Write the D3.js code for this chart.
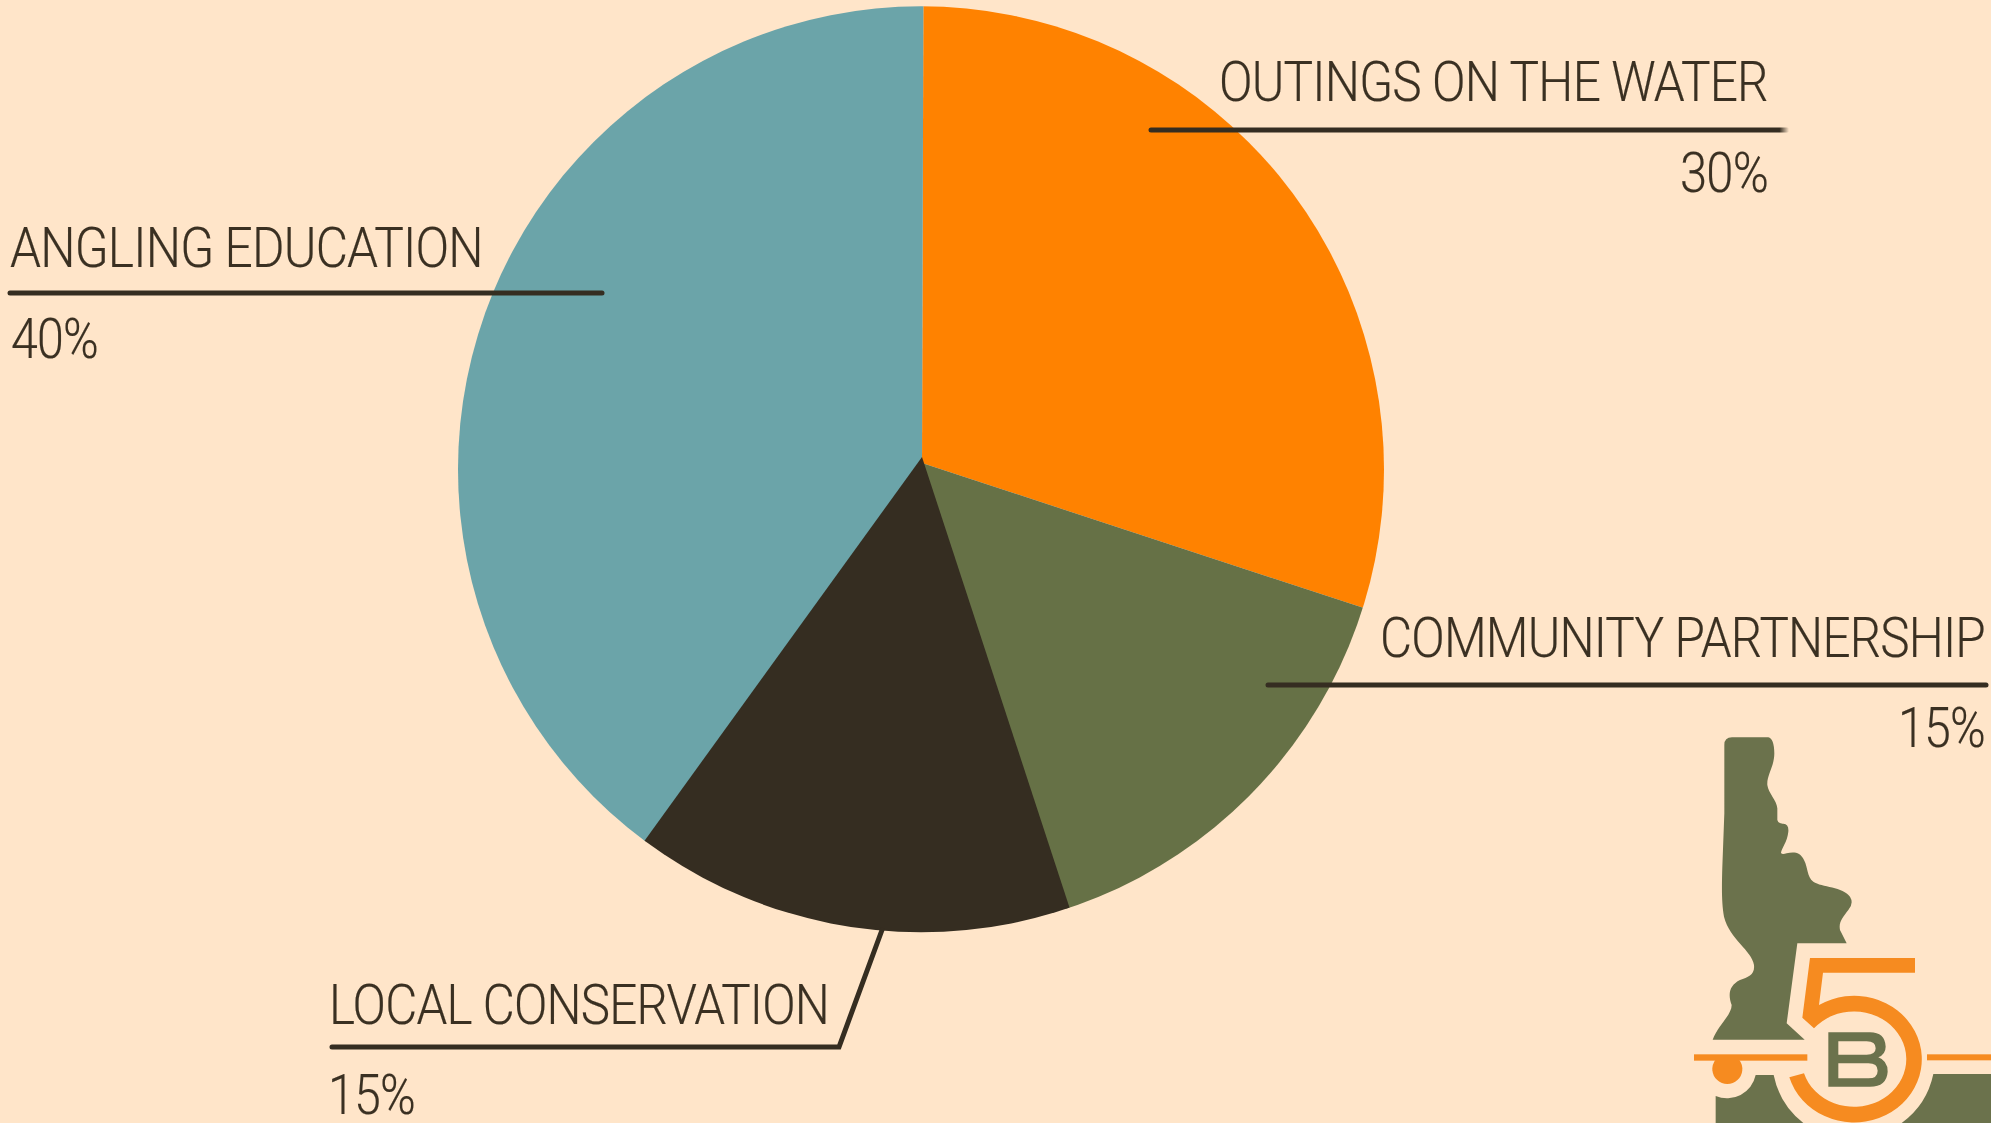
<!DOCTYPE html>
<html>
<head>
<meta charset="utf-8">
<title>Program allocation</title>
<script src="https://cdn.jsdelivr.net/npm/d3@7/dist/d3.min.js"></script>
<style>
  html, body { margin: 0; padding: 0; background: #FFE5C9; overflow: hidden; }
  svg { display: block; }
  text { font-family: Roboto, sans-serif; font-weight: 300; fill: #3A3022; stroke: #3A3022; stroke-width: 0.2px; letter-spacing: -0.9px; }
</style>
</head>
<body>
<svg id="chart" width="1991" height="1123"></svg>
<script>
// Program share by category, clockwise from twelve o'clock
const categories = ["OUTINGS ON THE WATER", "COMMUNITY PARTNERSHIP", "LOCAL CONSERVATION", "ANGLING EDUCATION"];
const shares = [30, 15, 15, 40];
const sliceColors = ["#FF8200", "#667146", "#352D21", "#6BA4A9"];

const width = 1991, height = 1123;
const ink = "#352D21";
const fontSize = 56;

// Callout geometry for each category: heading box, rule and percentage box
const callouts = [
  { x0: 1219, x1: 1768, base: 101,  pctBase: 192,  px0: 1680, px1: 1768, rule: [[1151, 130], [1787, 130]] },
  { x0: 1380, x1: 1985, base: 657,  pctBase: 747,  px0: 1898, px1: 1985, rule: [[1268, 685], [1986, 685]] },
  { x0: 329,  x1: 829,  base: 1024, pctBase: 1114, px0: 328,  px1: 415,  rule: [[332, 1047], [839, 1047], [882, 930]] },
  { x0: 10,   x1: 483,  base: 267,  pctBase: 358,  px0: 11,   px1: 98,   rule: [[10, 293], [602, 293]] }
];

const svg = d3.select("#chart");
svg.append("rect").attr("width", width).attr("height", height).attr("fill", "#FFE5C9");

const defs = svg.append("defs");
defs.append("clipPath").attr("id", "disc")
  .append("circle").attr("cx", 921).attr("cy", 469.3).attr("r", 463);

// The top rule dissolves at its right end
const fade = defs.append("linearGradient").attr("id", "ruleFade")
  .attr("gradientUnits", "userSpaceOnUse")
  .attr("x1", 1151).attr("x2", 1789).attr("y1", 0).attr("y2", 0);
fade.append("stop").attr("offset", 0.985).attr("stop-color", ink).attr("stop-opacity", 1);
fade.append("stop").attr("offset", 1).attr("stop-color", ink).attr("stop-opacity", 0);

// Wedges radiate from a hub a little above the disc's centre
const tilt = 0.003;
const pie = d3.pie().sort(null).value(d => d).startAngle(tilt).endAngle(2 * Math.PI + tilt);
const arc = d3.arc().innerRadius(0).outerRadius(500);
const hub = [922, 463];
const wedges = pie(shares).map((d, i) => ({ ...d, i }));

const disc = svg.append("g").attr("clip-path", "url(#disc)");
disc.selectAll("path")
  .data(wedges.slice().sort((a, b) => (a.i === 2) - (b.i === 2)))
  .join("path")
  .attr("transform", d => d.i === 2
    ? `translate(${hub[0]},${hub[1] - 6}) rotate(-0.3)`
    : `translate(${hub[0]},${hub[1]})`)
  .attr("d", arc)
  .attr("fill", d => sliceColors[d.i]);

// Places a text so its measured run fills the box from x0 to x1
function fitText(label, x0, x1, y) {
  const t = svg.append("text").attr("font-size", fontSize).text(label);
  const natural = t.node().getComputedTextLength();
  t.attr("transform", `translate(${x0},${y}) scale(${(x1 - x0) / natural},1)`);
}

// Callouts
const line = d3.line();
callouts.forEach((c, i) => {
  svg.append("path")
    .attr("d", line(c.rule))
    .attr("fill", "none")
    .attr("stroke", i === 0 ? "url(#ruleFade)" : ink)
    .attr("stroke-width", 5)
    .attr("stroke-linecap", "round")
    .attr("stroke-linejoin", "miter");

  fitText(categories[i], c.x0, c.x1, c.base);
  fitText(`${shares[i]}%`, c.px0, c.px1, c.pctBase);
});

// Organisation mark in the lower right corner
const mark = svg.append("g").attr("transform", "translate(1640,700) scale(0.33333)");
const markGreen = "#6B724C", markOrange = "#F68B20";

mark.append("path").attr("fill", markGreen).attr("d",
  "M253,135 Q253,112 276,112 L385,112 Q402,115 403,160 C403,200 380,225 382,255 " +
  "C385,280 410,300 412,325 L412,360 Q415,372 430,371 Q447,372 445,395 C442,425 425,445 423,458 " +
  "Q425,465 440,460 C460,455 480,455 492,480 C505,505 500,530 520,545 C545,562 610,560 630,590 " +
  "Q642,610 625,630 C610,650 595,665 600,690 L620,730 L472,730 L440,970 L494,1019 L218,1019 " +
  "C235,975 275,945 275,915 C262,880 270,855 300,840 C325,830 345,825 342,795 " +
  "C335,750 270,720 252,650 C245,610 245,570 247,500 L253,340 Z");

mark.append("path").attr("fill", markGreen).attr("d",
  "M227,1188 A88,88 0 0 0 347,1125 L401,1125 A243,243 0 0 0 490,1269 L227,1269 Z");
mark.append("path").attr("fill", markGreen).attr("d",
  "M880,1122 L1053,1122 L1053,1269 L785,1269 A243,243 0 0 0 880,1122 Z");

mark.append("path").attr("fill", markOrange).attr("d",
  "M510,774 L825,774 L825,818 L549,818 L537,915 A203,190 0 1 1 448,1132 L492,1120 " +
  "A157,143 0 1 0 522,985 L487,953 Z");
mark.append("rect").attr("fill", markOrange).attr("x", 162).attr("y", 1063).attr("width", 340).attr("height", 19);
mark.append("rect").attr("fill", markOrange).attr("x", 861).attr("y", 1063).attr("width", 192).attr("height", 18);
mark.append("path").attr("fill", markOrange).attr("d", "M226,1080 A45,45 0 1 0 298,1080 Z");

mark.append("path").attr("fill", markGreen).attr("fill-rule", "evenodd").attr("d",
  "M565,997 L690,997 Q735,997 737,1040 Q737,1062 715,1072 Q743,1082 743,1115 Q740,1160 690,1160 L565,1160 Z " +
  "M595,1024 L680,1024 Q707,1024 707,1045 Q707,1064 680,1064 L595,1064 Z " +
  "M595,1090 L685,1090 Q713,1090 713,1112 Q713,1135 685,1135 L595,1135 Z");
</script>
</body>
</html>
